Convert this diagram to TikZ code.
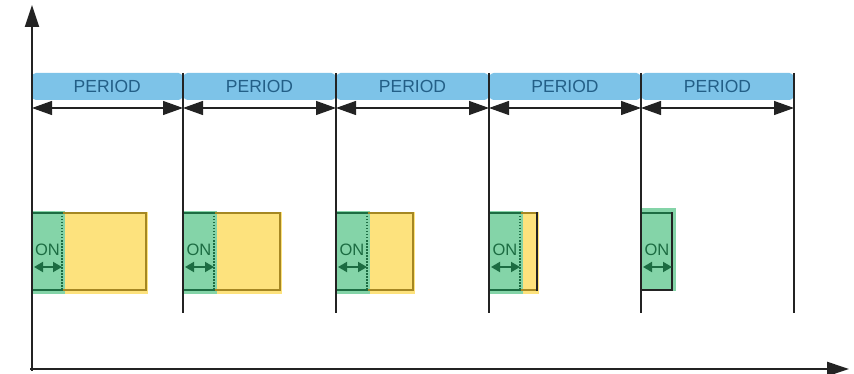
\documentclass[tikz,border=0pt]{standalone}
\usepackage{fontspec}
\setmainfont{Liberation Sans}
\usetikzlibrary{arrows.meta}
\definecolor{bluef}{RGB}{125,195,232}
\definecolor{bluet}{RGB}{35,95,135}
\definecolor{greenf}{RGB}{132,212,168}
\definecolor{greend}{RGB}{28,108,66}
\definecolor{yellowf}{RGB}{253,226,125}
\definecolor{yellowd}{RGB}{165,135,35}
\definecolor{axisc}{RGB}{35,35,35}
\tikzset{
  periodbar/.style={fill=bluef, rounded corners=4pt, minimum height=27pt, inner sep=0pt, text=bluet, font=\fontsize{17.5}{19}\selectfont},
  periodline/.style={draw=axisc, line width=1.3pt},
  periodarrow/.style={draw=axisc, line width=1.3pt, {Triangle[length=20pt,width=14pt]}-{Triangle[length=20pt,width=14pt]}},
  ontext/.style={text=greend, font=\fontsize{16.5}{18}\selectfont, inner sep=0pt},
  onarrow/.style={draw=greend, line width=1.8pt, {Triangle[length=9pt,width=10pt]}-{Triangle[length=9pt,width=10pt]}},
  axisline/.style={draw=axisc, line width=2.6pt, -{Triangle[length=22pt,width=14pt]}},
}
\begin{document}
\begin{tikzpicture}[x=1pt,y=-1pt]
\useasboundingbox (0,0) rectangle (854,374);
% period boundaries
\foreach \i/\x in {0/32,1/183,2/336,3/489,4/641,5/794}{
  \coordinate (t\i) at (\x,73);
  \coordinate (b\i) at (\x,313);
  \coordinate (a\i) at (\x,108);
}
% blue bars
\foreach \i/\xa/\xb in {1/32/182.5,2/183.5/335.5,3/336.5/488.5,4/489.5/640.5,5/641.5/793.5}{
  \node[periodbar, minimum width={\xb-\xa}] (bar\i) at ({(\xa+\xb)/2},86.5) {PERIOD};
}
% pulse boxes
\foreach \x/\xd/\xr/\rc in {32/63/146/yellowd,183/215/280/yellowd,336/368/413/yellowd,489/521/537/axisc}{
  \fill[yellowf] (\xd,212) rectangle (\xr+2,294);
  \fill[greenf] (\x-1,211) rectangle (\xd+2,294);
  \draw[greend, line width=1.3pt] (\xd,213) -- (\x,213) -- (\x,290) -- (\xd,290);
  \draw[yellowd, line width=1.3pt] (\xd,213) -- (\xr,213);
  \draw[yellowd, line width=1.3pt] (\xd,290) -- (\xr,290);
  \draw[\rc, line width=1.3pt] (\xr,212.4) -- (\xr,290.6);
  \draw[greend, line width=1.2pt, dash pattern=on 1.5pt off 1.5pt] (\xd-1,213) -- (\xd-1,290);
}
\fill[greenf] (641,208) rectangle (676,291);
\draw[greend, line width=1.3pt] (641,213) -- (672,213);
\draw[axisc, line width=1.3pt] (672,212.4) -- (672,290) -- (641,290);
% ON labels and arrows
\foreach \i/\x/\xd in {1/32/63,2/183/215,3/336/368,4/489/521,5/641/673}{
  \node[ontext] (on\i) at ({(\x+\xd)/2},250) {ON};
  \coordinate (ol\i) at (\x+2,267);
  \coordinate (or\i) at (\xd-1,267);
  \draw[onarrow] (ol\i) -- (or\i);
}
% period lines
\foreach \i in {1,...,5}{ \draw[periodline] (t\i) -- (b\i); }
% period arrows
\foreach \i [evaluate=\i as \j using int(\i+1)] in {0,...,4}{
  \draw[periodarrow] (a\i) -- (a\j);
}
% axes
\coordinate (origin) at (32,370.5);
\coordinate (ytop) at (32,5);
\coordinate (xleft) at (30,369);
\coordinate (xright) at (849,369);
\draw[axisline, line width=2.3pt] (origin) -- (ytop);
\draw[axisline] (xleft) -- (xright);
\end{tikzpicture}
\end{document}
